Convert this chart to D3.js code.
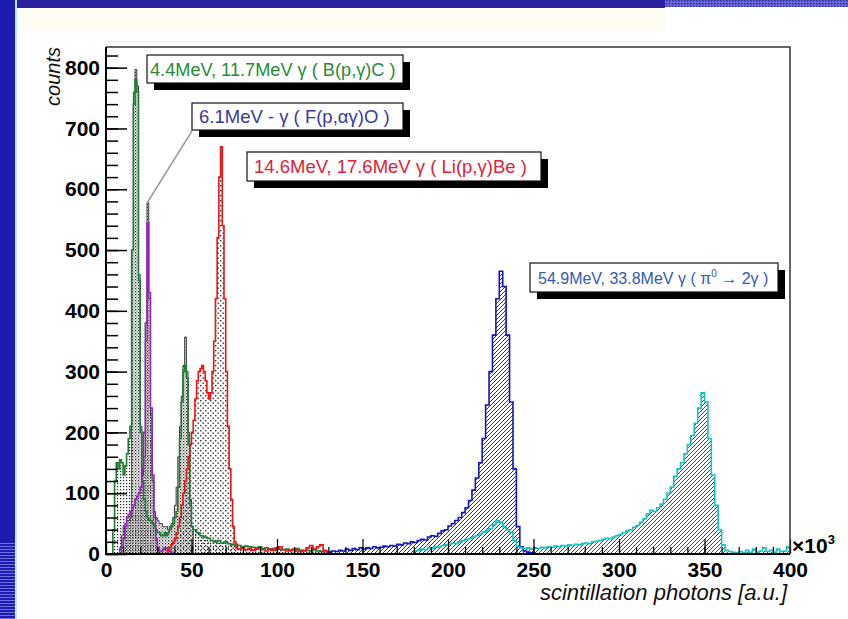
<!DOCTYPE html>
<html><head><meta charset="utf-8">
<script src="https://cdn.jsdelivr.net/npm/d3@7"></script>
<style>html,body{margin:0;padding:0;background:#fff;}svg{display:block;}</style>
</head><body>
<svg id="chart" width="848" height="619"></svg>
<script>
// ---------- data ----------
const xTicks = [0, 50, 100, 150, 200, 250, 300, 350, 400];
const yTicks = [0, 100, 200, 300, 400, 500, 600, 700, 800];
const xDomain = [0, 400];
const yDomain = [0, 834];

// black (sum) histogram, bin width 1 starting at 8
const blackStart = 8, blackWidth = 1;
const blackCounts = [10,30,45,50,55,55,60,500,760,797,770,460,210,130,160,350,578,420,230,120,70,60,55,50,50,45,45,45,40,45,50,60,80,110,160,210,260,310,357,300,200,90,45];

// 4.4 / 11.7 MeV  B(p,g)C  (green)
const greenStart = 3, greenWidth = 1;
const greenCounts = [0,40,120,150,140,155,150,130,145,165,190,210,500,740,780,760,450,200,120,90,70,60,55,55,50,45,40,35,35,30,30,35,30,35,40,45,50,60,70,110,190,250,300,310,290,180,80,45];
const greenTailStart = 51, greenTailWidth = 2;
const greenTailCounts = [40,35,30,28,26,22,20,22,18,20,17,15,16,14,12,13,12,11,10,12,9,10,8,9,10,8,7,8,6,7,9,6,5,6,5,7,5,4,5,4];

// 6.1 MeV  F(p,ag)O  (purple)
const purpleStart = 8, purpleWidth = 1;
const purpleCounts = [0,10,25,45,60,65,70,75,80,90,95,100,110,140,200,380,545,430,240,130,60,25,10,5,5,8,10,10,8,5,3];

// 14.6 / 17.6 MeV  Li(p,g)Be  (red)
const redStart = 36, redWidth = 1;
const redCounts = [5,10,15,20,25,35,45,60,80,100,120,140,160,180,200,220,255,285,300,305,310,300,285,265,255,265,300,350,420,520,620,670,540,420,300,210,140,90,45,20,10];
const redTailStart = 77, redTailWidth = 2;
const redTailCounts = [8,10,7,9,6,8,10,7,5,8,6,9,12,7,5,6,8,5,4,6,10,14,8,12,15,6,3];

// 54.9 MeV  pi0 (blue)
const blueStart = 130, blueWidth = 2;
const blueCounts = [3,5,4,6,5,8,6,9,7,10,8,10,9,12,10,11,13,12,14,13,16,15,18,17,20,19,22,24,23,28,30,29,34,38,40,46,50,55,60,68,76,88,105,125,150,190,245,300,360,420,465,440,360,250,140,45,12,5,3,2];

// 83.8 MeV  pi0 (cyan)
const cyanStart = 180, cyanWidth = 2;
const cyanCounts = [5,6,8,7,10,9,12,11,14,15,16,18,17,20,22,24,25,28,30,33,36,38,42,48,55,52,45,40,35,22,12,10,9,10,8,10,9,11,10,12,11,13,12,14,13,15,14,16,15,17,18,17,20,21,22,24,26,25,28,30,32,35,38,40,44,47,52,58,66,72,70,76,82,90,100,110,128,140,150,165,180,195,215,240,265,250,190,130,80,40,15,6,4,3,2,4,2,6,3,8,3,5,10,4,6,3,8,4,5,12];

const labels = [
  {text: "4.4MeV, 11.7MeV γ ( B(p,γ)C )", color: "#2a8a3a"},
  {text: "6.1MeV - γ ( F(p,αγ)O )", color: "#3a3a9a"},
  {text: "14.6MeV, 17.6MeV γ ( Li(p,γ)Be )", color: "#e0203a"},
  {text: "54.9MeV, 33.8MeV γ ( π", sup: "0", after: " → 2γ )", color: "#3658b0"}
];

// ---------- drawing ----------
const svg = d3.select("#chart");
const FONT = "'Liberation Sans', Arial, Helvetica, sans-serif";

// page decoration (slide frame)
svg.append("rect").attr("x",0).attr("y",0).attr("width",848).attr("height",619).attr("fill","#fff");
svg.append("rect").attr("x",16).attr("y",8).attr("width",650).attr("height",22).attr("fill","#fffdf2");
svg.append("rect").attr("x",0).attr("y",0).attr("width",665).attr("height",8).attr("fill","#2a20a0");
const defs = svg.append("defs");
const pTop = defs.append("pattern").attr("id","topdots").attr("width",3).attr("height",3).attr("patternUnits","userSpaceOnUse");
pTop.append("rect").attr("width",3).attr("height",3).attr("fill","#6a6ad0");
pTop.append("rect").attr("width",1.5).attr("height",1.5).attr("fill","#2a2aa8");
svg.append("rect").attr("x",665).attr("y",0).attr("width",183).attr("height",7).attr("fill","url(#topdots)");
svg.append("rect").attr("x",0).attr("y",0).attr("width",15).attr("height",619).attr("fill","#1c1cb0");
svg.append("rect").attr("x",15).attr("y",0).attr("width",2).attr("height",619).attr("fill","#bfe8f8");
const pStripe = defs.append("pattern").attr("id","stripes").attr("width",15).attr("height",3).attr("patternUnits","userSpaceOnUse");
pStripe.append("rect").attr("width",15).attr("height",3).attr("fill","#1c1cb0");
pStripe.append("rect").attr("width",15).attr("height",1).attr("fill","#6f6fe0");
svg.append("rect").attr("x",0).attr("y",543).attr("width",15).attr("height",76).attr("fill","url(#stripes)");

// fill patterns
function dotPattern(id, size, dot, color, checker) {
  const p = defs.append("pattern").attr("id",id).attr("width",size).attr("height",size).attr("patternUnits","userSpaceOnUse");
  p.append("rect").attr("x",0).attr("y",0).attr("width",dot).attr("height",dot).attr("fill",color);
  if (checker) p.append("rect").attr("x",size/2).attr("y",size/2).attr("width",dot).attr("height",dot).attr("fill",color);
}
dotPattern("dotsGreen", 3, 1.2, "#222", false);
dotPattern("dotsPurple", 2.5, 1.2, "#222", false);
dotPattern("dotsBlack", 3, 1.1, "#333", true);
dotPattern("dotsRed", 5, 1.4, "#333", true);
function hatchPattern(id, size, color) {
  const p = defs.append("pattern").attr("id",id).attr("width",size).attr("height",size).attr("patternUnits","userSpaceOnUse");
  p.append("path").attr("d",`M0,${size} L${size},0 M${-size/2},${size/2} L${size/2},${-size/2} M${size/2},${size*1.5} L${size*1.5},${size/2}`)
    .attr("stroke",color).attr("stroke-width",0.9);
}
hatchPattern("hatchBlue", 4, "#222");
hatchPattern("hatchCyan", 4, "#333");

const x = d3.scaleLinear().domain(xDomain).range([106, 790]);
const y = d3.scaleLinear().domain(yDomain).range([554, 47]);

function bins(start, width, counts) {
  return counts.map((c, i) => ({x0: start + i*width, x1: start + (i+1)*width, c}));
}
function histPath(b) {
  let d = `M${x(b[0].x0)},${y(0)}`;
  b.forEach(v => { d += `L${x(v.x0)},${y(v.c)}L${x(v.x1)},${y(v.c)}`; });
  d += `L${x(b[b.length-1].x1)},${y(0)}`;
  return d;
}

const series = [
  {b: bins(blackStart, blackWidth, blackCounts), color: "#3a3a3a", fill: "url(#dotsBlack)", w: 1},
  {b: bins(greenStart, greenWidth, greenCounts).concat(bins(greenTailStart, greenTailWidth, greenTailCounts)), color: "#1a7f2e", fill: "url(#dotsGreen)", w: 1.6},
  {b: bins(purpleStart, purpleWidth, purpleCounts), color: "#9b1fbf", fill: "url(#dotsPurple)", w: 1.6},
  {b: bins(redStart, redWidth, redCounts).concat(bins(redTailStart, redTailWidth, redTailCounts)), color: "#ee1111", fill: "url(#dotsRed)", w: 1.6},
  {b: bins(blueStart, blueWidth, blueCounts), color: "#1414c0", fill: "url(#hatchBlue)", w: 1.6},
  {b: bins(cyanStart, cyanWidth, cyanCounts), color: "#14c4c4", fill: "url(#hatchCyan)", w: 1.6}
];

const g = svg.append("g");
series.forEach(s => {
  g.append("path").attr("d", histPath(s.b)).attr("fill", s.fill).attr("stroke","none");
});
series.forEach(s => {
  g.append("path").attr("d", histPath(s.b)).attr("fill","none").attr("stroke", s.color).attr("stroke-width", s.w);
});

// axes
const yMinor = d3.range(0, 834, 20);
svg.append("g").attr("transform","translate(106,0)")
  .call(d3.axisLeft(y).tickValues(yMinor).tickSize(-12).tickSizeOuter(0).tickFormat(""))
  .call(a => a.select(".domain").remove())
  .call(a => a.selectAll("line").attr("stroke","#000").attr("stroke-width",1.5));
svg.append("g").attr("transform","translate(106,0)")
  .call(d3.axisLeft(y).tickValues(yTicks).tickSize(-21).tickSizeOuter(0).tickPadding(6))
  .call(a => a.select(".domain").remove())
  .call(a => a.selectAll("line").attr("stroke","#000").attr("stroke-width",1.5))
  .call(a => a.selectAll("text").attr("font-family",FONT).attr("font-weight","bold").attr("font-size",21).attr("fill","#000"));

const xMinor = d3.range(0, 401, 10);
svg.append("g").attr("transform","translate(0,554)")
  .call(d3.axisBottom(x).tickValues(xMinor).tickSize(-7).tickSizeOuter(0).tickFormat(""))
  .call(a => a.select(".domain").remove())
  .call(a => a.selectAll("line").attr("stroke","#000").attr("stroke-width",1.2));
svg.append("g").attr("transform","translate(0,554)")
  .call(d3.axisBottom(x).tickValues(xTicks).tickSize(-15).tickSizeOuter(0).tickPadding(8))
  .call(a => a.select(".domain").remove())
  .call(a => a.selectAll("line").attr("stroke","#000").attr("stroke-width",1.2))
  .call(a => a.selectAll("text").attr("font-family",FONT).attr("font-weight","bold").attr("font-size",21).attr("fill","#000"));

// frame
svg.append("line").attr("x1",108).attr("x2",790).attr("y1",42).attr("y2",42).attr("stroke","#e4e4e4").attr("stroke-width",1);
svg.append("path").attr("d",`M106,47 L790,47 L790,554`).attr("fill","none").attr("stroke","#333").attr("stroke-width",1.5);
svg.append("path").attr("d",`M106,47 L106,554 L790,554`).attr("fill","none").attr("stroke","#000").attr("stroke-width",2);

// axis titles
svg.append("text").attr("transform","translate(60,47) rotate(-90)").attr("text-anchor","end")
  .attr("font-family",FONT).attr("font-style","italic").attr("font-size",20).attr("fill","#111").text("counts");
svg.append("text").attr("x",787).attr("y",600).attr("text-anchor","end")
  .attr("font-family",FONT).attr("font-style","italic").attr("font-size",22).attr("fill","#111").text("scintillation photons [a.u.]");
const xe = svg.append("text").attr("x",792).attr("y",553).attr("font-family",FONT).attr("font-weight","bold").attr("font-size",21).attr("fill","#000");
xe.append("tspan").text("×10");
xe.append("tspan").attr("dy",-9).attr("font-size",13).text("3");

// callout line
svg.append("line").attr("x1",192).attr("y1",131).attr("x2",147).attr("y2",203).attr("stroke","#9a9a9a").attr("stroke-width",1.5);

// label boxes
const boxes = [
  {x0:147, y0:55, x1:403, y1:83, tx:150, fs:18.2},
  {x0:192, y0:103, x1:403, y1:130, tx:199, fs:18.5},
  {x0:247, y0:152, x1:541, y1:181, tx:254, fs:18.5},
  {x0:530, y0:263, x1:778, y1:292, tx:538, fs:16}
];
boxes.forEach((bx, i) => {
  const L = labels[i];
  svg.append("rect").attr("x",bx.x0+7).attr("y",bx.y0+7).attr("width",bx.x1-bx.x0).attr("height",bx.y1-bx.y0).attr("fill","#000");
  svg.append("rect").attr("x",bx.x0).attr("y",bx.y0).attr("width",bx.x1-bx.x0).attr("height",bx.y1-bx.y0)
    .attr("fill","#fff").attr("stroke","#111").attr("stroke-width",1.2);
  const t = svg.append("text").attr("x",bx.tx).attr("y",(bx.y0+bx.y1)/2+6.5)
    .attr("font-family",FONT).attr("font-size",bx.fs).attr("fill",L.color);
  t.append("tspan").text(L.text);
  if (L.sup) {
    t.append("tspan").attr("dy",-7).attr("font-size",10).text(L.sup);
    t.append("tspan").attr("dy",7).text(L.after);
  }
});
</script>
</body></html>
